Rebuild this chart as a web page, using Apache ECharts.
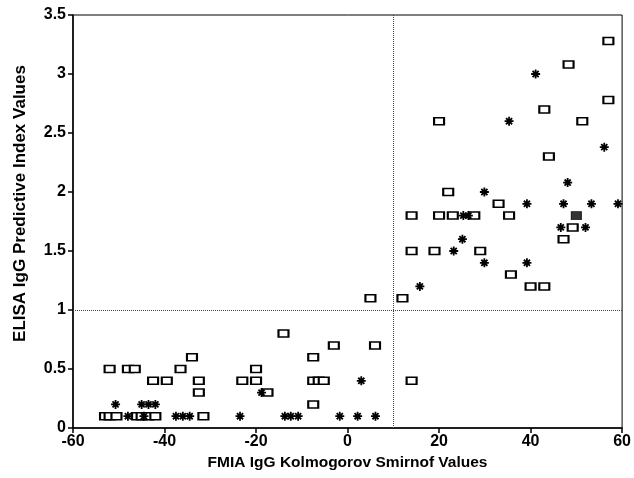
<!DOCTYPE html>
<html>
<head>
<meta charset="utf-8">
<script src="https://cdn.jsdelivr.net/npm/echarts@6/dist/echarts.min.js"></script>
<style>
  html, body { margin: 0; padding: 0; background: #fff; }
</style>
</head>
<body>
<div id="chart" style="width: 634px; height: 478px;"></div>
<script>
// open squares [FMIA KS value, ELISA PI value]
const openSquares = [
  [-52, 0.5], [-48, 0.5], [-46.5, 0.5],
  [-42.5, 0.4], [-39.5, 0.4], [-36.5, 0.5], [-34, 0.6], [-32.5, 0.4], [-32.5, 0.3], [-31.5, 0.1],
  [-23, 0.4], [-20, 0.5], [-20, 0.4], [-17.5, 0.3],
  [-14, 0.8], [-7.5, 0.6], [-7.5, 0.4], [-6.3, 0.4], [-5.2, 0.4], [-7.5, 0.2], [-3, 0.7], [6, 0.7], [14, 0.4],
  [-53, 0.1], [-52, 0.1], [-50.5, 0.1], [-46, 0.1], [-45, 0.1], [-43.5, 0.1], [-42, 0.1],
  [5, 1.1], [12, 1.1],
  [14, 1.8], [20, 1.8], [23, 1.8], [27.7, 1.8], [35.3, 1.8],
  [14, 1.5], [19, 1.5], [29, 1.5],
  [22, 2.0], [33, 1.9],
  [35.7, 1.3], [40, 1.2], [43, 1.2],
  [47.2, 1.6], [49.2, 1.7],
  [20, 2.6], [43, 2.7], [51.3, 2.6], [44, 2.3], [57, 2.78], [57, 3.28], [48.3, 3.08]
];

const asterisks = [
  [-50.7, 0.2], [-45, 0.2], [-43.5, 0.2], [-42, 0.2],
  [-48, 0.1], [-44.5, 0.1], [-37.5, 0.1], [-36, 0.1], [-34.5, 0.1], [-23.5, 0.1], [-18.8, 0.3],
  [-13.7, 0.1], [-12.4, 0.1], [-10.8, 0.1], [-1.7, 0.1], [2.2, 0.1], [6.1, 0.1], [3, 0.4],
  [15.8, 1.2], [23.2, 1.5], [25.1, 1.6], [25.3, 1.8], [26.4, 1.8], [29.9, 1.4], [39.2, 1.4],
  [29.9, 2.0], [39.2, 1.9], [47.2, 1.9], [53.3, 1.9], [59.1, 1.9],
  [46.6, 1.7], [52, 1.7], [48.1, 2.08], [56.1, 2.38], [35.3, 2.6], [41.1, 3.0]
];

const filledSquares = [
  [50, 1.8]
];

// cut-off lines
const cutoffX = 10;
const cutoffY = 1;

const xName = 'FMIA IgG Kolmogorov Smirnof Values';
const yName = 'ELISA IgG Predictive Index Values';

const font = '"Liberation Sans", Arial, Helvetica, sans-serif';
const starPath = 'path://M0,5L10,5M5,0L5,10M1.6,1.6L8.4,8.4M8.4,1.6L1.6,8.4';

const myChart = echarts.init(document.getElementById('chart'));

const option = {
  animation: false,
  backgroundColor: '#fff',
  grid: {
    left: 73,
    right: 7,
    top: 15,
    bottom: 50,
    show: true,
    borderColor: '#000',
    borderWidth: 1
  },
  xAxis: {
    type: 'value',
    min: -60,
    max: 60,
    interval: 20,
    name: xName,
    nameLocation: 'middle',
    nameGap: 26,
    nameTextStyle: { fontFamily: font, fontWeight: 'bold', fontSize: 15.5, color: '#000' },
    axisLine: { onZero: false, lineStyle: { color: '#000', width: 1.5 } },
    axisTick: { length: 5, lineStyle: { color: '#000', width: 1.5 } },
    axisLabel: { margin: 6, fontFamily: font, fontWeight: 'bold', fontSize: 16, color: '#000' },
    splitLine: { show: false }
  },
  yAxis: {
    type: 'value',
    min: 0,
    max: 3.5,
    interval: 0.5,
    name: yName,
    nameLocation: 'middle',
    nameGap: 44,
    nameTextStyle: {
      fontFamily: font, fontWeight: 'bold', fontSize: 17, color: '#000',
      padding: [0, 0, 0, 36]
    },
    axisLine: { show: true, onZero: false, lineStyle: { color: '#000', width: 1.5 } },
    axisTick: { show: true, length: 5, lineStyle: { color: '#000', width: 1.5 } },
    axisLabel: { margin: 7, fontFamily: font, fontWeight: 'bold', fontSize: 16, color: '#000' },
    splitLine: { show: false }
  },
  series: [
    {
      type: 'scatter',
      name: 'open',
      clip: false,
      symbol: 'rect',
      symbolSize: [10, 7],
      itemStyle: { color: '#fff', borderColor: '#000', borderWidth: 1.8, opacity: 1 },
      data: openSquares,
      markLine: {
        silent: true,
        symbol: 'none',
        label: { show: false },
        lineStyle: { type: 'dotted', color: '#444', width: 1 },
        data: [
          { xAxis: cutoffX },
          { yAxis: cutoffY }
        ]
      }
    },
    {
      type: 'scatter',
      name: 'star',
      clip: false,
      symbol: starPath,
      symbolSize: 9,
      itemStyle: { color: 'none', borderColor: '#000', borderWidth: 1.8, opacity: 1 },
      data: asterisks
    },
    {
      type: 'scatter',
      name: 'filled',
      clip: false,
      symbol: 'rect',
      symbolSize: [10, 8],
      itemStyle: { color: '#000', borderColor: '#000', borderWidth: 1 },
      data: filledSquares
    }
  ]
};

myChart.setOption(option);
</script>
</body>
</html>
